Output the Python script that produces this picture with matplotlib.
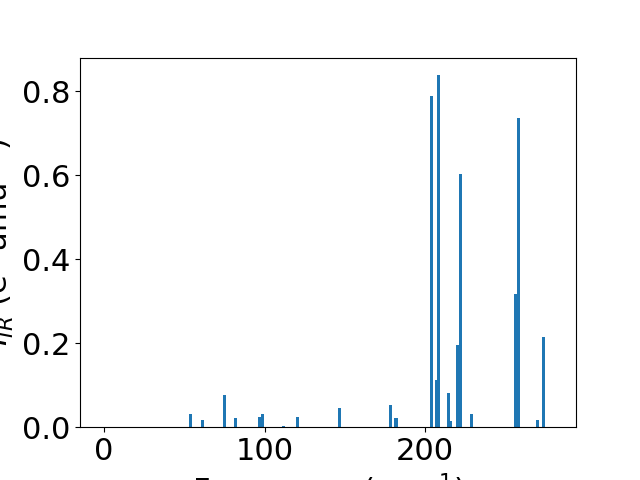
import matplotlib
matplotlib.use("Agg")
import matplotlib.pyplot as plt

freqs = [0.0, 0.0, 0.0, 53.8, 61.3, 75.0, 81.8, 97.2, 98.6, 111.7, 120.4, 146.5,
         178.4, 181.9, 204.0, 206.9, 208.3, 214.5, 215.6, 220.1, 222.0, 228.8,
         256.3, 258.2, 270.0, 273.7]
intensities = [0.0, 0.0, 0.0, 0.031, 0.017, 0.076, 0.021, 0.024, 0.031, 0.003, 0.024, 0.045,
               0.052, 0.021, 0.788, 0.112, 0.838, 0.082, 0.015, 0.195, 0.602, 0.031,
               0.317, 0.736, 0.017, 0.214]

plt.rcParams['font.size'] = 22
fig, ax = plt.subplots(figsize=(6.4, 4.8), dpi=100)
ax.bar(freqs, intensities, width=2.0)
ax.set_xlim(-15, 294)
ax.set_xlabel("Frequency (cm$^{-1}$)")
ax.set_ylabel("$I_{IR}$ (e$^2$ amu$^{-1}$)")
fig.savefig("out.png", dpi=100)
